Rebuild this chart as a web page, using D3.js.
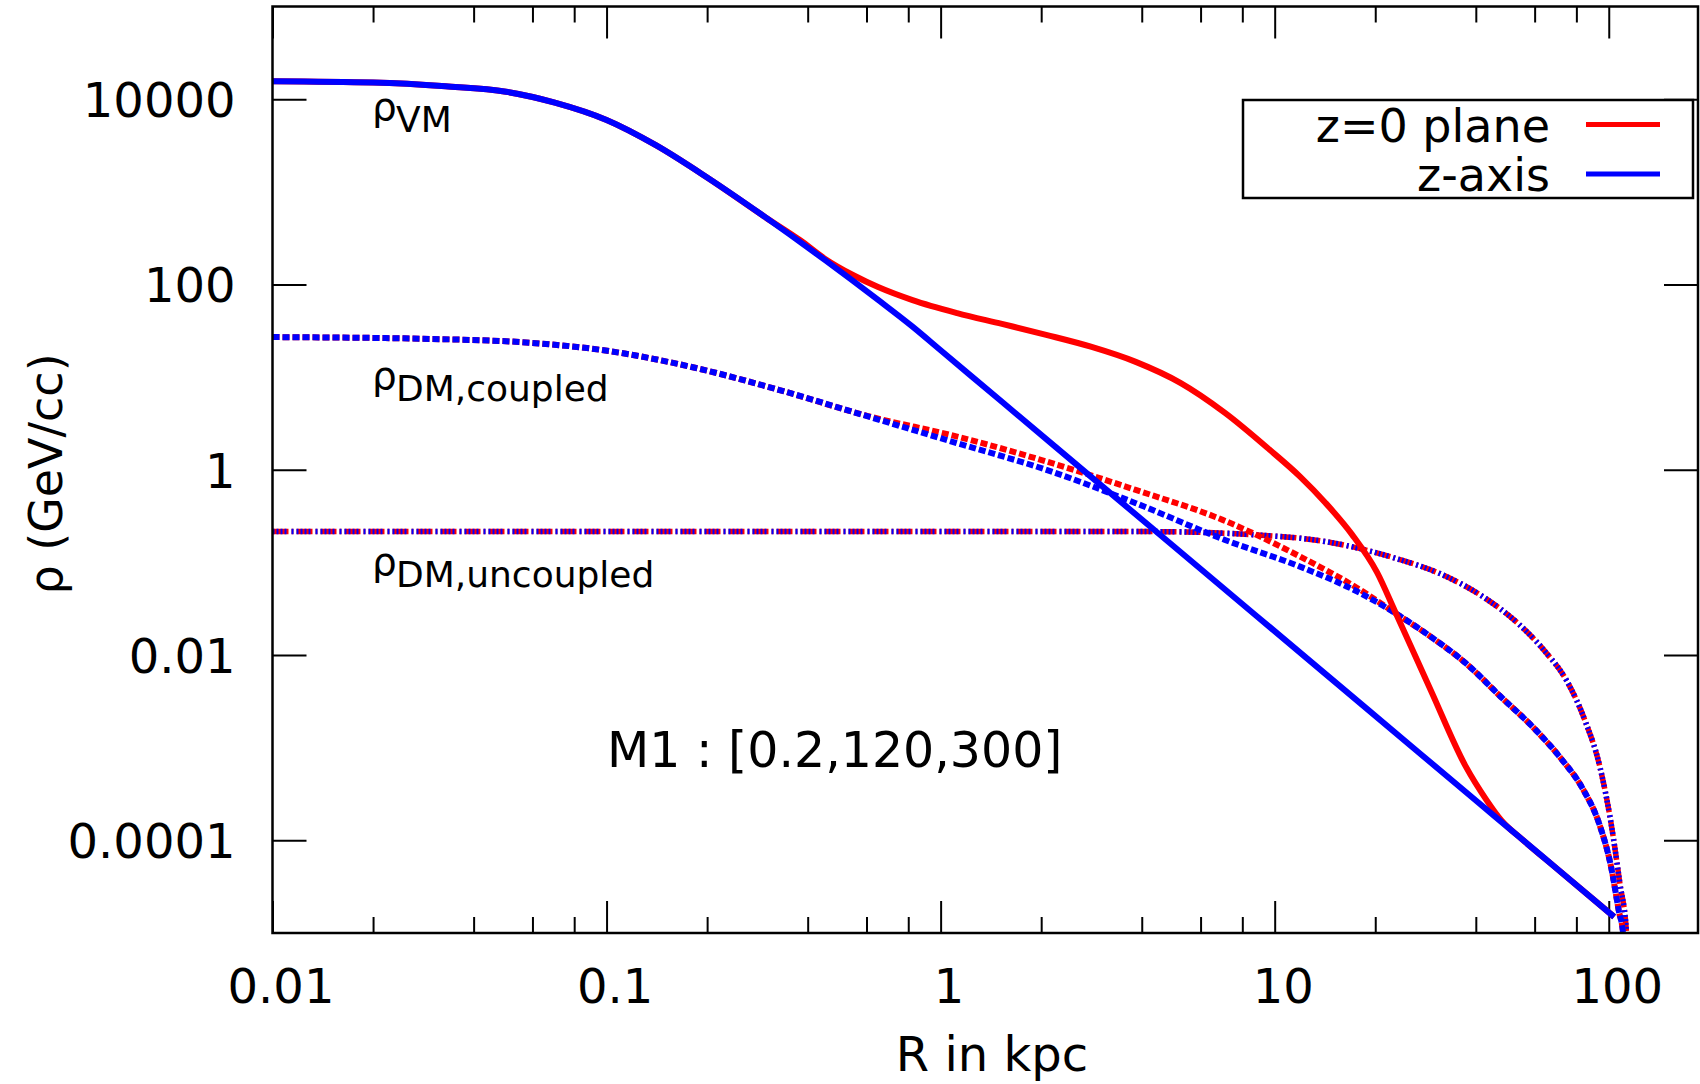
<!DOCTYPE html>
<html><head><meta charset="utf-8">
<script src="https://cdn.jsdelivr.net/npm/d3@7"></script>
<style>
html,body{margin:0;padding:0;background:#fff;}
svg text{font-family:"DejaVu Sans",sans-serif;fill:#000;}
</style></head><body>
<svg id="chart" width="1700" height="1084"></svg>
<script>
// ---------- data ----------
const xTickValues = [0.01, 0.1, 1, 10, 100];
const xTickLabels = ["0.01", "0.1", "1", "10", "100"];
const xMinorTicks = [0.02,0.04,0.06,0.08, 0.2,0.4,0.6,0.8, 2,4,6,8, 20,40,60,80];
const yTickValues = [1e4, 1e2, 1, 1e-2, 1e-4];
const yTickLabels = ["10000", "100", "1", "0.01", "0.0001"];

// rho_VM along z-axis (blue solid)
const R_vmAxis   = [0.01, 0.02, 0.033, 0.05, 0.07, 0.1, 0.14, 0.2, 0.3, 0.45, 0.65, 0.824, 1.0, 1.526, 2.816, 8.75, 18.06, 40.1, 55, 70, 103.8];
const rho_vmAxis = [15600, 15100, 13740, 12010, 9170, 5960, 3205, 1428, 526, 183.9, 68, 35.0, 19.46, 5.41, 0.843, 0.0271, 0.003006, 0.0002676, 0.0001026, 0.0000494, 0.00001494];

// rho_VM in z=0 plane (red solid)
const R_vmPlane   = [0.01, 0.02, 0.033, 0.05, 0.07, 0.1, 0.14, 0.2, 0.3, 0.38, 0.45, 0.55, 0.65, 0.824, 1.121, 1.526, 2.07, 2.816, 3.838, 5.22, 7.10, 9.66, 11.91, 14.2, 17.05, 20.25, 23.0, 29.3, 37.35, 43.07, 47.8, 55, 70, 103.8];
const rho_vmPlane = [15600, 15100, 13740, 12010, 9170, 5960, 3205, 1428, 526, 300, 190, 125, 93.8, 67.8, 49.1, 37.5, 28.6, 21.3, 14.6, 8.67, 4.11, 1.643, 0.843, 0.438, 0.1994, 0.078, 0.02877, 0.0042, 0.000624, 0.000272, 0.000163, 0.0001030, 0.0000494, 0.00001494];

// rho_DM,coupled along z-axis (blue dashed)
const R_dmcAxis   = [0.01, 0.03, 0.0613, 0.0956, 0.177, 0.3274, 0.606, 1.121, 2.074, 3.838, 7.10, 11.91, 18.06, 23.0, 29.3, 37.35, 47.5, 60.5, 72.15, 83.8, 93.7, 101.7, 107.2, 110.5, 111.5];
const rho_dmcAxis = [27.04, 25.8, 23.26, 19.72, 13.02, 7.29, 3.758, 1.936, 0.997, 0.4358, 0.1748, 0.09, 0.0465, 0.02823, 0.01581, 0.00815, 0.00355, 0.00155, 0.000755, 0.000355, 0.0001498, 0.000051, 0.0000173, 0.0000096, 0.0000001];

// rho_DM,coupled in z=0 plane (red dashed)
const R_dmcPlane   = [0.01, 0.03, 0.0613, 0.0956, 0.177, 0.3274, 0.606, 1.121, 2.074, 3.838, 6.985, 11.91, 18.06, 23.0, 29.3, 37.35, 47.5, 60.5, 72.15, 83.8, 93.7, 101.7, 107.2, 110.5, 111.5];
const rho_dmcPlane = [27.04, 25.8, 23.26, 19.72, 13.02, 7.29, 3.8, 2.282, 1.227, 0.6056, 0.2877, 0.1157, 0.0504, 0.02823, 0.01581, 0.00815, 0.00355, 0.00155, 0.000755, 0.000355, 0.0001498, 0.000051, 0.0000173, 0.0000096, 0.0000001];

// rho_DM,uncoupled (both, nearly identical)
const R_dmu   = [0.01, 0.1, 1, 4.24, 8.75, 14.2, 23.0, 31.7, 42.76, 53.5, 64.5, 74.9, 85.0, 93.7, 101.7, 108.0, 113, 114];
const rho_dmu = [0.215, 0.215, 0.215, 0.215, 0.1983, 0.1678, 0.1108, 0.0739, 0.0409, 0.02197, 0.0109, 0.00526, 0.00194, 0.00066, 0.0001498, 0.000034, 0.0000101, 0.0000001];

const legendLabels = ["z=0 plane", "z-axis"];
const legendColors = ["#ff0000", "#0000ff"];
const annotation = "M1 : [0.2,120,300]";
const xTitle = "R in kpc";
const yTitle = "\u03c1 (GeV/cc)";

// ---------- layout ----------
const plot = {left: 272.5, right: 1698, top: 6.5, bottom: 933};
const svg = d3.select("#chart");
const x = d3.scaleLog().domain([0.01, 185]).range([plot.left, plot.right]);
const y = d3.scaleLog().domain([1e-5, 1e5]).range([plot.bottom, plot.top]);

svg.append("defs").append("clipPath").attr("id","clip")
  .append("rect").attr("x",plot.left).attr("y",plot.top)
  .attr("width",plot.right-plot.left).attr("height",plot.bottom-plot.top);

// axes
function styleAxis(g){ g.select(".domain").remove(); g.selectAll(".tick line").attr("stroke","#000").attr("stroke-width",2); }

svg.append("g").attr("transform",`translate(0,${plot.bottom})`)
  .call(d3.axisBottom(x).tickValues(xMinorTicks).tickFormat("").tickSizeInner(-16).tickSizeOuter(0))
  .call(styleAxis);
svg.append("g").attr("transform",`translate(0,${plot.top})`)
  .call(d3.axisTop(x).tickValues(xMinorTicks).tickFormat("").tickSizeInner(-16).tickSizeOuter(0))
  .call(styleAxis);
const gxb = svg.append("g").attr("transform",`translate(0,${plot.bottom})`)
  .call(d3.axisBottom(x).tickValues(xTickValues).tickFormat((d,i)=>xTickLabels[i]).tickSizeInner(-32).tickSizeOuter(0).tickPadding(36))
  .call(styleAxis);
gxb.selectAll(".tick text").style("font-size","48px").style("font-family","DejaVu Sans").attr("dx",8).attr("fill","#000");
svg.append("g").attr("transform",`translate(0,${plot.top})`)
  .call(d3.axisTop(x).tickValues(xTickValues).tickFormat("").tickSizeInner(-32).tickSizeOuter(0))
  .call(styleAxis);
const gyl = svg.append("g").attr("transform",`translate(${plot.left},0)`)
  .call(d3.axisLeft(y).tickValues(yTickValues).tickFormat((d,i)=>yTickLabels[i]).tickSizeInner(-34).tickSizeOuter(0).tickPadding(37))
  .call(styleAxis);
gyl.selectAll(".tick text").style("font-size","48px").style("font-family","DejaVu Sans").attr("dy","0.36em").attr("fill","#000");
svg.append("g").attr("transform",`translate(${plot.right},0)`)
  .call(d3.axisRight(y).tickValues(yTickValues).tickFormat("").tickSizeInner(-34).tickSizeOuter(0))
  .call(styleAxis);

// curves
const line = d3.line().x(d=>x(d[0])).y(d=>y(d[1])).curve(d3.curveMonotoneX);
const zip = (a,b)=>a.map((v,i)=>[v,b[i]]);
const gc = svg.append("g").attr("clip-path","url(#clip)");
function draw(data,color,width,dash,offset){
  gc.append("path").datum(data).attr("d",line).attr("fill","none")
    .attr("stroke",color).attr("stroke-width",width)
    .attr("stroke-dasharray",dash||null).attr("stroke-dashoffset",offset||0)
    .attr("stroke-linejoin","round");
}
draw(zip(R_dmu,rho_dmu),"#ff0000",5.5,"16,3,2,3",0);
draw(zip(R_dmu,rho_dmu),"#0000ff",5.5,"2,2,2,2,2,2,2,5,2,3",0);
draw(zip(R_dmcPlane,rho_dmcPlane),"#ff0000",6,"7,3",0);
draw(zip(R_dmcAxis,rho_dmcAxis),"#0000ff",6,"7,3",0);
draw(zip(R_vmPlane,rho_vmPlane),"#ff0000",6);
draw(zip(R_vmAxis,rho_vmAxis),"#0000ff",6);

// frame
svg.append("rect").attr("x",plot.left).attr("y",plot.top)
  .attr("width",plot.right-plot.left).attr("height",plot.bottom-plot.top)
  .attr("fill","none").attr("stroke","#000").attr("stroke-width",2.5);

// curve labels
function rhoLabel(xp, base, sub){
  svg.append("text").attr("x",xp).attr("y",base-12).style("font-size","39px").text("\u03c1");
  svg.append("text").attr("x",xp+24).attr("y",base).style("font-size","36px").text(sub);
}
rhoLabel(372,132,"VM");
rhoLabel(372,401,"DM,coupled");
rhoLabel(372,587,"DM,uncoupled");

// annotation
svg.append("text").attr("x",607).attr("y",767).style("font-size","49px").text(annotation);

// axis titles
svg.append("text").attr("x",992).attr("y",1071).attr("text-anchor","middle").style("font-size","48px").text(xTitle);
svg.append("text").attr("transform","translate(62,474) rotate(-90)").attr("text-anchor","middle").style("font-size","46px").text(yTitle);

// legend
const lg = svg.append("g");
lg.append("rect").attr("x",1243).attr("y",100).attr("width",450).attr("height",98)
  .attr("fill","#fff").attr("stroke","#000").attr("stroke-width",2.5);
legendLabels.forEach((lab,i)=>{
  const cy = 124.5 + i*49.5;
  lg.append("text").attr("x",1550).attr("y",cy+17).attr("text-anchor","end").style("font-size","46px").text(lab);
  lg.append("line").attr("x1",1586).attr("x2",1660).attr("y1",cy).attr("y2",cy)
    .attr("stroke",legendColors[i]).attr("stroke-width",5);
});
</script>
</body></html>
